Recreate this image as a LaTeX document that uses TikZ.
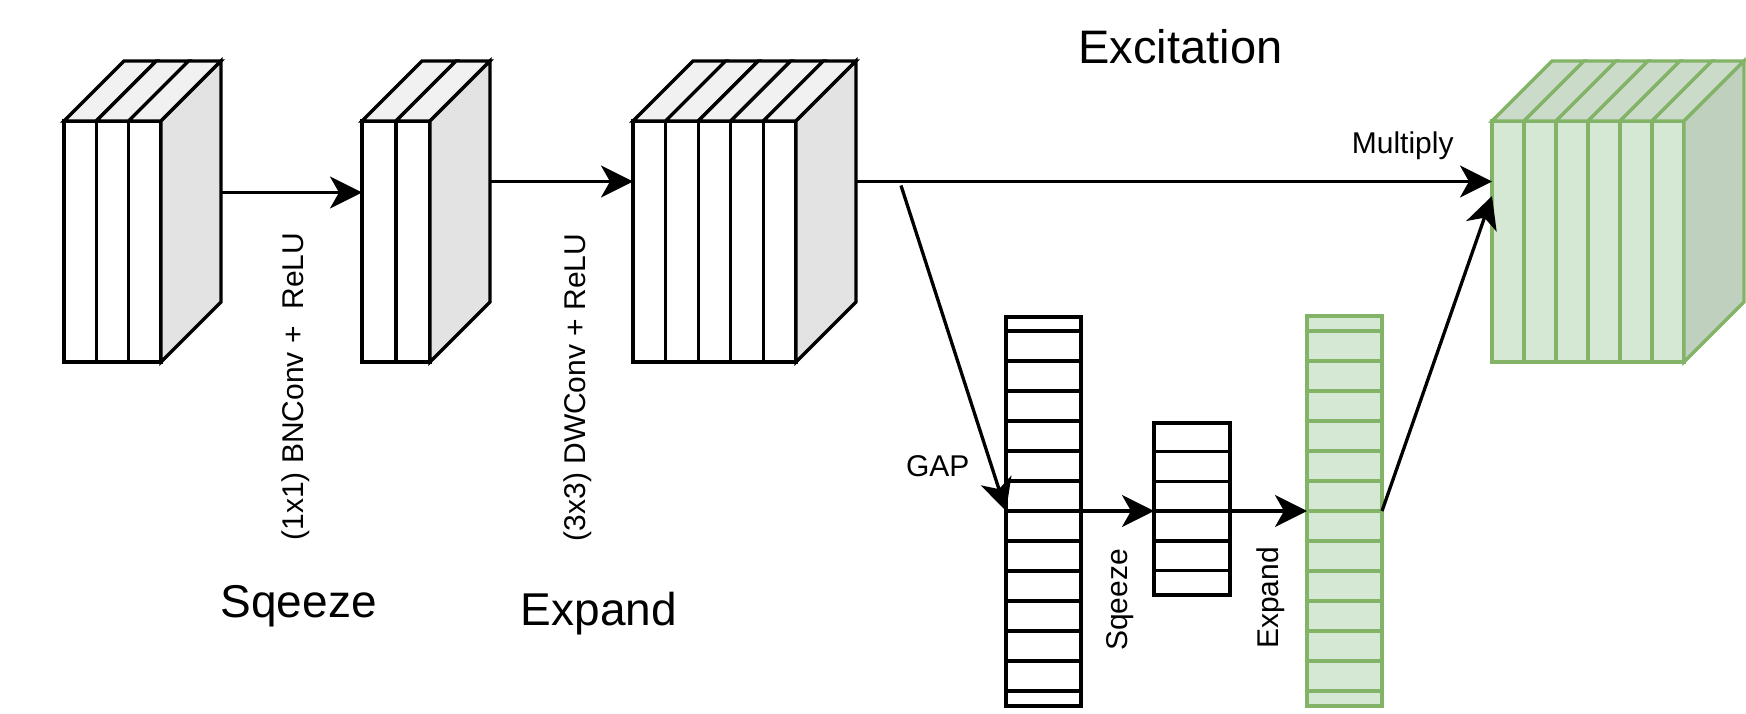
\documentclass[tikz,border=0pt]{standalone}
\usepackage{fontspec}
\setmainfont{Liberation Sans}
\usepackage{xcolor}
\definecolor{grayTop}{HTML}{F1F1F1}
\definecolor{graySide}{HTML}{E3E3E3}
\definecolor{greenFill}{HTML}{D5E8D4}
\definecolor{greenTop}{HTML}{CADBC9}
\definecolor{greenSide}{HTML}{BFD0BE}
\definecolor{greenLine}{HTML}{82B366}
\usetikzlibrary{arrows.meta, positioning, calc}

% stacked feature map: name, top-left, width, slices, colour scheme
\newcommand{\featmap}[5]{%
  \node (#1) [#5front, minimum width=#3pt, anchor=north west] at #2 {};
  \pgfmathsetmacro{\slicew}{#3/#4}
  \foreach \i in {1,...,#4} {
    \draw [#5face] ($(#1.north west)+({\i*\slicew},0)$) -- ++(0,241);
    \draw [#5face, fill=#5Top] ($(#1.north west)+({(\i-1)*\slicew},0)$) -- ++(60,-60) -- ++(\slicew,0) -- ++(-60,60) -- cycle;
  }
  \draw [#5face, fill=#5Side] (#1.north east) -- ++(60,-60) -- ++(0,241) -- (#1.south east) -- cycle;
}

\begin{document}
\begin{tikzpicture}[
    x=1pt, y=-1pt,
    every node/.style={outer sep=0pt, inner sep=0pt},
    grayface/.style={line width=3.3pt, draw=black},
    greenface/.style={line width=3.3pt, draw=greenLine},
    grayfront/.style={grayface, fill=white, minimum height=241pt},
    greenfront/.style={greenface, fill=greenFill, minimum height=241pt},
    vecBox/.style={grayface, fill=white, minimum width=75pt, anchor=north west},
    vecGreen/.style={greenface, fill=greenFill, minimum width=75pt, anchor=north west},
    arrow/.style={line width=3.3pt, -{Stealth[length=32pt, width=32pt, inset=9pt]}},
    lbl/.style={anchor=base, font=\fontsize{30}{36}\selectfont},
    vlbl/.style={lbl, rotate=90},
    title/.style={anchor=base, font=\fontsize{46}{55}\selectfont}
]
    \useasboundingbox (0,0) rectangle (1746,714);

    % Feature maps
    \featmap{inp}{(64,121)}{97}{3}{gray}
    \featmap{sqz}{(362,121)}{68}{2}{gray}
    \featmap{exp}{(633,121)}{163}{5}{gray}
    \featmap{outp}{(1492,121)}{192}{6}{green}

    % Channel vectors
    \node (gap) [vecBox, minimum height=389pt] at (1006,317) {};
    \foreach \k in {0,...,12}
        \draw [grayface] ($(gap.north west)+(0,{14+30*\k})$) -- ++(75,0);
    \node (vsq) [vecBox, minimum height=172pt, minimum width=76pt] at (1154,423) {};
    \foreach \k in {0,...,4}
        \draw [grayface] ($(vsq.north west)+(0,{28.5+29.8*\k})$) -- ++(76,0);
    \node (vex) [vecGreen, minimum height=390pt] at (1307,316) {};
    \foreach \k in {0,...,12}
        \draw [greenface] ($(vex.north west)+(0,{15+30*\k})$) -- ++(75,0);

    % Connectors
    \coordinate (inpOut) at ($(inp.east)+(60,-49)$);
    \coordinate (sqzOut) at ($(sqz.east)+(60,-60)$);
    \coordinate (expOut) at ($(exp.east)+(60,-60)$);
    \coordinate (split) at ($(expOut)+(45,4)$);
    \coordinate (row) at (0,511);
    \coordinate (outIn) at ($(outp.north west)+(0,75)$);
    \draw [arrow] (inpOut) -- (inpOut -| sqz.west);
    \draw [arrow] (sqzOut) -- (sqzOut -| exp.west);
    \draw [arrow] (expOut) -- (expOut -| outp.west);
    \draw [arrow] (split) -- (gap.west |- row);
    \draw [arrow] (gap.east |- row) -- (vsq.west |- row);
    \draw [arrow] (vsq.east |- row) -- (vex.west |- row);
    \draw [arrow] (vex.east |- row) -- (outIn);

    % Labels
    \node (excl) [title, font=\fontsize{47}{56}\selectfont] at (1180.5,63.3) {Excitation};
    \node (sqzl) [title] at (298.7,617) {Sqeeze};
    \node (expl) [title] at (599,625) {Expand};
    \node (mull) [lbl] at (1402.7,153.3) {Multiply};
    \node (gapl) [lbl] at (937.8,476.7) {GAP};
    \node (conv1) [vlbl] at (303.3,386.7) {(1x1) BNConv +\ \ ReLU};
    \node (conv2) [vlbl] at (585,387.5) {(3x3) DWConv + ReLU};
    \node (vsql) [vlbl] at (1127,600) {Sqeeze};
    \node (vexl) [vlbl] at (1278,598) {Expand};
\end{tikzpicture}
\end{document}
